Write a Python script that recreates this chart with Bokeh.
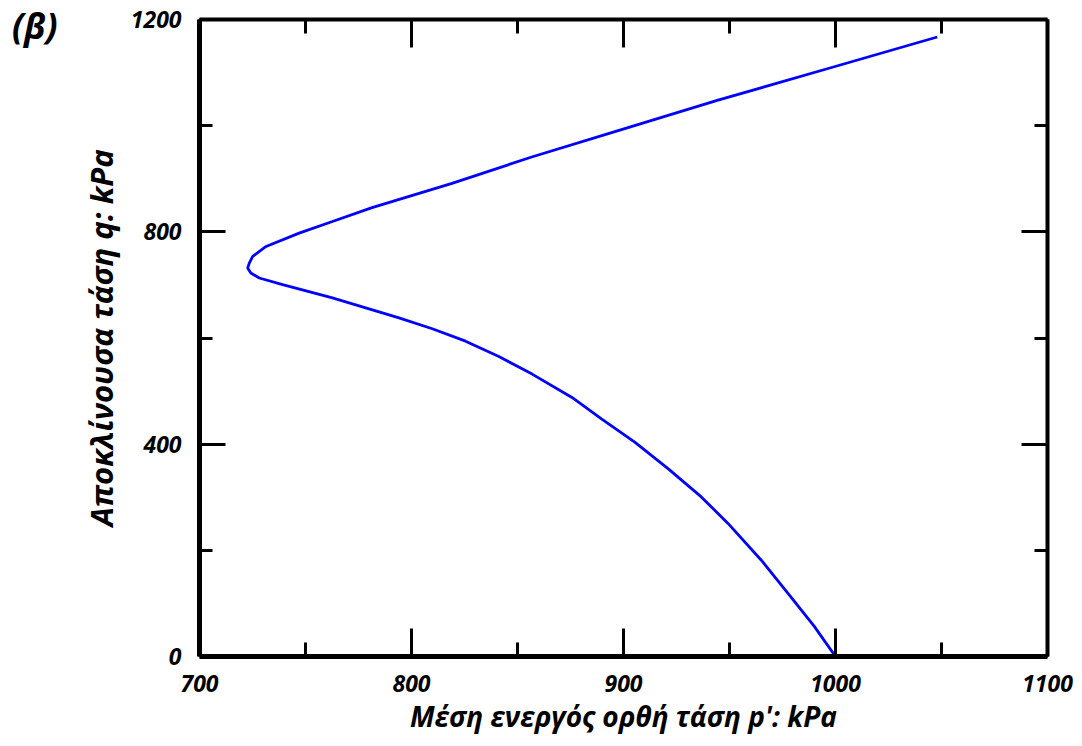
from bokeh.plotting import figure
from bokeh.models import FixedTicker, LinearAxis, Range1d
from bokeh.embed import file_html
from bokeh.resources import INLINE

# Stress path (p' in kPa, q in kPa)
p_vals = [1000.0, 990.0, 977.5, 964.9, 949.3, 936.7, 921.0, 905.3, 889.6, 875.7,
          856.9, 841.2, 825.5, 809.8, 794.1, 762.7, 739.2, 728.2, 724.2, 722.7,
          723.5, 725.1, 731.4, 747.0, 762.7, 781.4, 819.1, 856.7, 894.4, 944.6,
          999.4, 1048.0]
q_vals = [0.0, 56.8, 119.4, 181.9, 250.7, 300.6, 353.8, 403.7, 447.6, 488.0,
          532.0, 565.0, 594.0, 617.4, 638.0, 675.6, 700.6, 713.0, 722.5, 731.8,
          741.0, 753.8, 772.5, 797.5, 819.4, 845.6, 891.2, 941.0, 986.8, 1048.0,
          1111.0, 1167.0]

x_major = [700, 800, 900, 1000, 1100]
x_minor = [750, 850, 950, 1050]
y_major = [0, 400, 800, 1200]
y_minor = [200, 600, 1000]

x_title = "Μέση ενεργός ορθή τάση p': kPa"
y_title = "Αποκλίνουσα τάση q: kPa"
panel_tag = "(β)"
tag_level = 1195  # q level at which the panel tag sits

FONT = "Open Sans"

p = figure(width=1080, height=746, output_backend="svg", toolbar_location=None,
           x_range=Range1d(700, 1100), y_range=Range1d(0, 1200),
           min_border_left=199, min_border_right=33, min_border_top=19,
           min_border_bottom=90, x_axis_location=None, y_axis_location=None)
p.outline_line_color = None
p.xgrid.visible = False
p.ygrid.visible = False
p.background_fill_color = "white"
p.border_fill_color = "white"


def style_axis(ax, major, minor, show_labels, lw):
    ax.ticker = FixedTicker(ticks=major, minor_ticks=minor)
    ax.axis_line_width = lw
    ax.axis_line_color = "black"
    ax.major_tick_line_width = 3
    ax.minor_tick_line_width = 3
    ax.major_tick_line_color = "black"
    ax.minor_tick_line_color = "black"
    ax.major_tick_out = 0
    ax.minor_tick_out = 0
    ax.major_label_text_font = FONT
    ax.major_label_text_font_style = "bold italic"
    ax.major_label_text_color = "black"
    ax.axis_label_text_font = FONT
    ax.axis_label_text_font_style = "bold italic"
    ax.axis_label_text_color = "black"
    if not show_labels:
        ax.major_label_text_color = None
        ax.major_label_text_font_size = "1px"
        ax.major_label_standoff = 0


xb = LinearAxis(axis_label=x_title)
style_axis(xb, x_major, x_minor, True, 5)
xb.major_tick_in = 28
xb.minor_tick_in = 14
xb.major_label_text_font_size = "23px"
xb.major_label_standoff = 18
xb.axis_label_text_font_size = "28px"
xb.axis_label_standoff = 2
p.add_layout(xb, "below")

xt = LinearAxis()
style_axis(xt, x_major, x_minor, False, 4)
xt.major_tick_in = 28
xt.minor_tick_in = 14
p.add_layout(xt, "above")

yl = LinearAxis(axis_label=y_title)
style_axis(yl, y_major, y_minor, True, 5)
yl.major_tick_in = 26
yl.minor_tick_in = 13
yl.major_label_text_font_size = "23px"
yl.major_label_standoff = 18
yl.axis_label_text_font_size = "31px"
yl.axis_label_standoff = 6
p.add_layout(yl, "left")

yr = LinearAxis()
style_axis(yr, y_major, y_minor, False, 4)
yr.major_tick_in = 26
yr.minor_tick_in = 13
p.add_layout(yr, "right")

# outer, invisible axis that carries only the panel tag "(β)"
tag_axis = LinearAxis(ticker=FixedTicker(ticks=[tag_level], minor_ticks=[]),
                      major_label_overrides={tag_level: panel_tag})
tag_axis.axis_line_color = None
tag_axis.major_tick_line_color = None
tag_axis.minor_tick_line_color = None
tag_axis.major_tick_out = 0
tag_axis.major_tick_in = 0
tag_axis.major_label_standoff = 19
tag_axis.major_label_text_font = FONT
tag_axis.major_label_text_font_style = "bold italic"
tag_axis.major_label_text_font_size = "35px"
tag_axis.major_label_text_color = "black"
p.add_layout(tag_axis, "left")

p.line(p_vals, q_vals, line_color="#0000ff", line_width=2.8)

open("out.html", "w").write(file_html(p, INLINE))
